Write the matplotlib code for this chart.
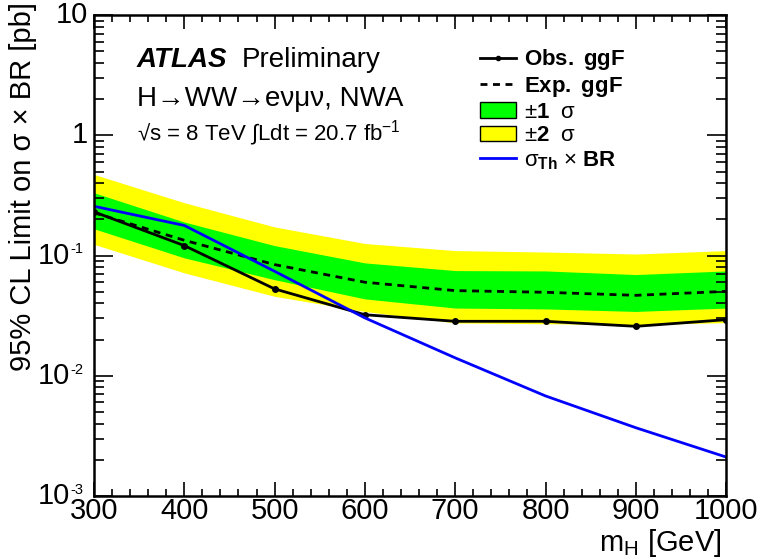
import matplotlib
matplotlib.use('Agg')
import matplotlib.pyplot as plt
from matplotlib.lines import Line2D
from matplotlib.patches import Patch
from matplotlib.transforms import ScaledTranslation
from matplotlib.ticker import FixedLocator, MultipleLocator, LogLocator, NullFormatter

plt.rcParams['font.family'] = ['Liberation Sans', 'DejaVu Sans']
plt.rcParams['mathtext.fontset'] = 'custom'
plt.rcParams['mathtext.rm'] = 'Liberation Sans'
plt.rcParams['mathtext.it'] = 'Liberation Sans:italic'
plt.rcParams['mathtext.bf'] = 'Liberation Sans:bold'
plt.rcParams['mathtext.default'] = 'regular'

# limits vs mass
mass = [300, 400, 500, 600, 700, 800, 900, 1000]
obs = [0.231, 0.121, 0.0528, 0.0322, 0.0284, 0.0284, 0.0258, 0.0293]
exp = [0.227, 0.134, 0.0841, 0.060, 0.0511, 0.0495, 0.0467, 0.0504]
sig1_lo = [0.167, 0.0957, 0.063, 0.0436, 0.0366, 0.036, 0.0343, 0.0366]
sig1_hi = [0.333, 0.19, 0.121, 0.0869, 0.075, 0.0745, 0.0695, 0.0745]
sig2_lo = [0.124, 0.0718, 0.0458, 0.0343, 0.0275, 0.0271, 0.0266, 0.0277]
sig2_hi = [0.473, 0.275, 0.173, 0.126, 0.110, 0.107, 0.103, 0.110]
theory = [0.257, 0.178, 0.074, 0.0303, 0.0141, 0.0068, 0.0037, 0.00211]

ytick_vals = [1e-3, 1e-2, 1e-1, 1, 10]
ytick_base = ['10', '10', '10', '1', '10']
ytick_exp = ['-3', '-2', '-1', '', '']

fig = plt.figure(figsize=(7.58, 5.58), dpi=100)
ax = fig.add_axes([0.124, 0.111, 0.834, 0.862])

ax.fill_between(mass, sig2_lo, sig2_hi, color='#ffff00', lw=0)
ax.fill_between(mass, sig1_lo, sig1_hi, color='#00ff00', lw=0)
ax.plot(mass, exp, color='black', lw=2, ls=(0, (2.5, 2)))
ax.plot(mass, obs, color='black', lw=2, marker='o', ms=4)
ax.plot(mass, theory, color='#0000ff', lw=2)

ax.set_yscale('log')
ax.set_xlim(300, 1000)
ax.set_ylim(1e-3, 10)

ax.xaxis.set_major_locator(MultipleLocator(100))
ax.xaxis.set_minor_locator(MultipleLocator(20))
ax.yaxis.set_major_locator(FixedLocator(ytick_vals))
ax.yaxis.set_minor_locator(LogLocator(base=10, subs=range(2, 10)))
ax.yaxis.set_major_formatter(NullFormatter())
ax.yaxis.set_minor_formatter(NullFormatter())

ax.tick_params(axis='both', which='both', direction='in', top=True, right=True,
               labelsize=21, width=1.2)
ax.tick_params(axis='x', which='major', length=10, pad=1)
ax.tick_params(axis='x', which='minor', length=5)
ax.tick_params(axis='y', which='major', length=14)
ax.tick_params(axis='y', which='minor', length=7)
for s in ax.spines.values():
    s.set_linewidth(1.8)

# ROOT style y labels: 10 with a small exponent
ytr = ax.get_yaxis_transform()
sup_tr = ytr + ScaledTranslation(0, 9.5 / 72, fig.dpi_scale_trans)
for v, b, e in zip(ytick_vals, ytick_base, ytick_exp):
    if e:
        ax.text(-0.038, v, b, transform=ytr, ha='right', va='center', fontsize=21)
        ax.text(-0.038, v, e, transform=sup_tr, ha='left', va='top', fontsize=10.5)
    else:
        ax.text(-0.0095, v, b, transform=ytr, ha='right', va='center', fontsize=21)

fig.text(0.031, 0.996, '95% CL Limit on σ × BR [pb]', rotation=90,
         ha='center', va='top', fontsize=21)
fig.text(0.952, 0.0125, 'm$_{H}$ [GeV]', ha='right', va='baseline', fontsize=21)

ax.text(0.068, 0.892, 'ATLAS', transform=ax.transAxes, fontsize=20,
        fontweight='bold', fontstyle='italic', va='baseline')
ax.text(0.234, 0.892, 'Preliminary', transform=ax.transAxes, fontsize=20,
        va='baseline')
ax.text(0.068, 0.811, 'H→WW→eνμν, NWA', transform=ax.transAxes, fontsize=20,
        va='baseline')
ax.text(0.068, 0.740, '√s = 8 TeV ∫Ldt = 20.7 fb$^{-1}$', transform=ax.transAxes,
        fontsize=16, va='baseline')

handles = [
    Line2D([], [], color='black', lw=2, marker='o', ms=3),
    Line2D([], [], color='black', lw=2, ls=(0, (2.5, 2))),
    Patch(facecolor='#00ff00', edgecolor='black', lw=1),
    Patch(facecolor='#ffff00', edgecolor='black', lw=1),
    Line2D([], [], color='#0000ff', lw=2),
]
labels = [
    r'$\mathbf{Obs.\ ggF}$',
    r'$\mathbf{Exp.\ ggF}$',
    r'±$\mathbf{1}$  σ',
    r'±$\mathbf{2}$  σ',
    r'σ$_{\mathbf{Th}}$ × $\mathbf{BR}$',
]
leg = ax.legend(handles, labels, loc='upper left', bbox_to_anchor=(0.611, 0.933),
                frameon=False, fontsize=16, handlelength=1.6, handletextpad=0.35,
                labelspacing=0.12, borderpad=0, borderaxespad=0)

fig.savefig('out.png', dpi=100)
